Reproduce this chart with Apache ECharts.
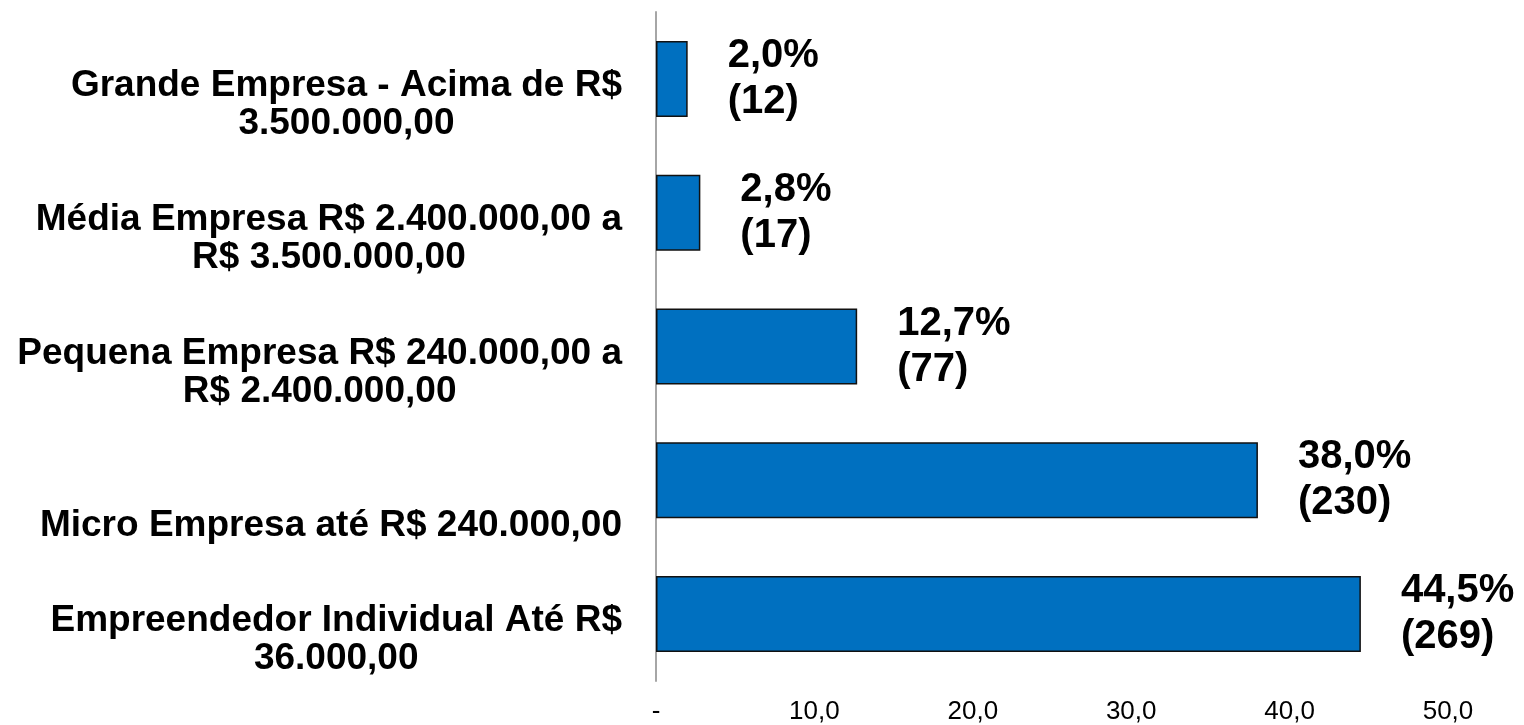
<!DOCTYPE html>
<html>
<head>
<meta charset="utf-8">
<script src="https://cdn.jsdelivr.net/npm/echarts@6/dist/echarts.min.js"></script>
<style>
  html, body { margin: 0; padding: 0; background: #fff; }
  #main { width: 1524px; height: 725px; }
</style>
</head>
<body>
<div id="main"></div>
<script>
// categorias (de cima para baixo)
var categorias = [
    'Grande Empresa - Acima de R$\n3.500.000,00',
    'Média Empresa R$ 2.400.000,00 a\nR$ 3.500.000,00',
    'Pequena Empresa R$ 240.000,00 a\nR$ 2.400.000,00',
    'Micro Empresa até R$ 240.000,00',
    'Empreendedor Individual Até R$\n36.000,00'
];
var percentuais = [2.0, 2.8, 12.7, 38.0, 44.5];
var quantidades = [12, 17, 77, 230, 269];
var eixoX = { min: 0, max: 50, intervalo: 10 };

function fmt(v) {
    return v.toFixed(1).replace('.', ',');
}

var fonte = 'Liberation Sans, Arial, sans-serif';
var chart = echarts.init(document.getElementById('main'));
var option = {
    animation: false,
    grid: {
        left: 656,
        right: 76,
        top: 12,
        bottom: 44
    },
    xAxis: {
        type: 'value',
        min: eixoX.min,
        max: eixoX.max,
        interval: eixoX.intervalo,
        axisLine: { show: false },
        axisTick: { show: false },
        splitLine: { show: false },
        axisLabel: {
            margin: 18,
            color: '#000',
            fontFamily: fonte,
            fontSize: 26,
            formatter: function (v) {
                return v === 0 ? '-' : fmt(v);
            }
        }
    },
    yAxis: {
        type: 'category',
        inverse: true,
        data: categorias,
        axisLine: { show: true, lineStyle: { color: '#A6A6A6', width: 2 } },
        axisTick: { show: false },
        splitLine: { show: false },
        axisLabel: {
            margin: 34,
            padding: [52, 0, 0, 0],
            lineHeight: 38,
            formatter: function (v) {
                var linhas = v.split('\n');
                if (linhas.length === 1) linhas.unshift(' ');
                return linhas.map(function (l) { return '{a|' + l + '}'; }).join('\n');
            },
            rich: {
                a: {
                    align: 'center',
                    color: '#000',
                    fontFamily: fonte,
                    fontWeight: 'bold',
                    fontSize: 37,
                    lineHeight: 38
                }
            }
        }
    },
    series: [{
        type: 'bar',
        data: percentuais,
        barWidth: 76,
        itemStyle: {
            color: '#0070C0',
            borderColor: '#111',
            borderWidth: 1.5
        },
        label: {
            show: true,
            position: 'right',
            distance: 40,
            align: 'left',
            color: '#000',
            fontFamily: fonte,
            fontWeight: 'bold',
            fontSize: 40,
            lineHeight: 46,
            formatter: function (p) {
                return fmt(p.value) + '%\n(' + quantidades[p.dataIndex] + ')';
            }
        }
    }]
};
chart.setOption(option);
</script>
</body>
</html>
